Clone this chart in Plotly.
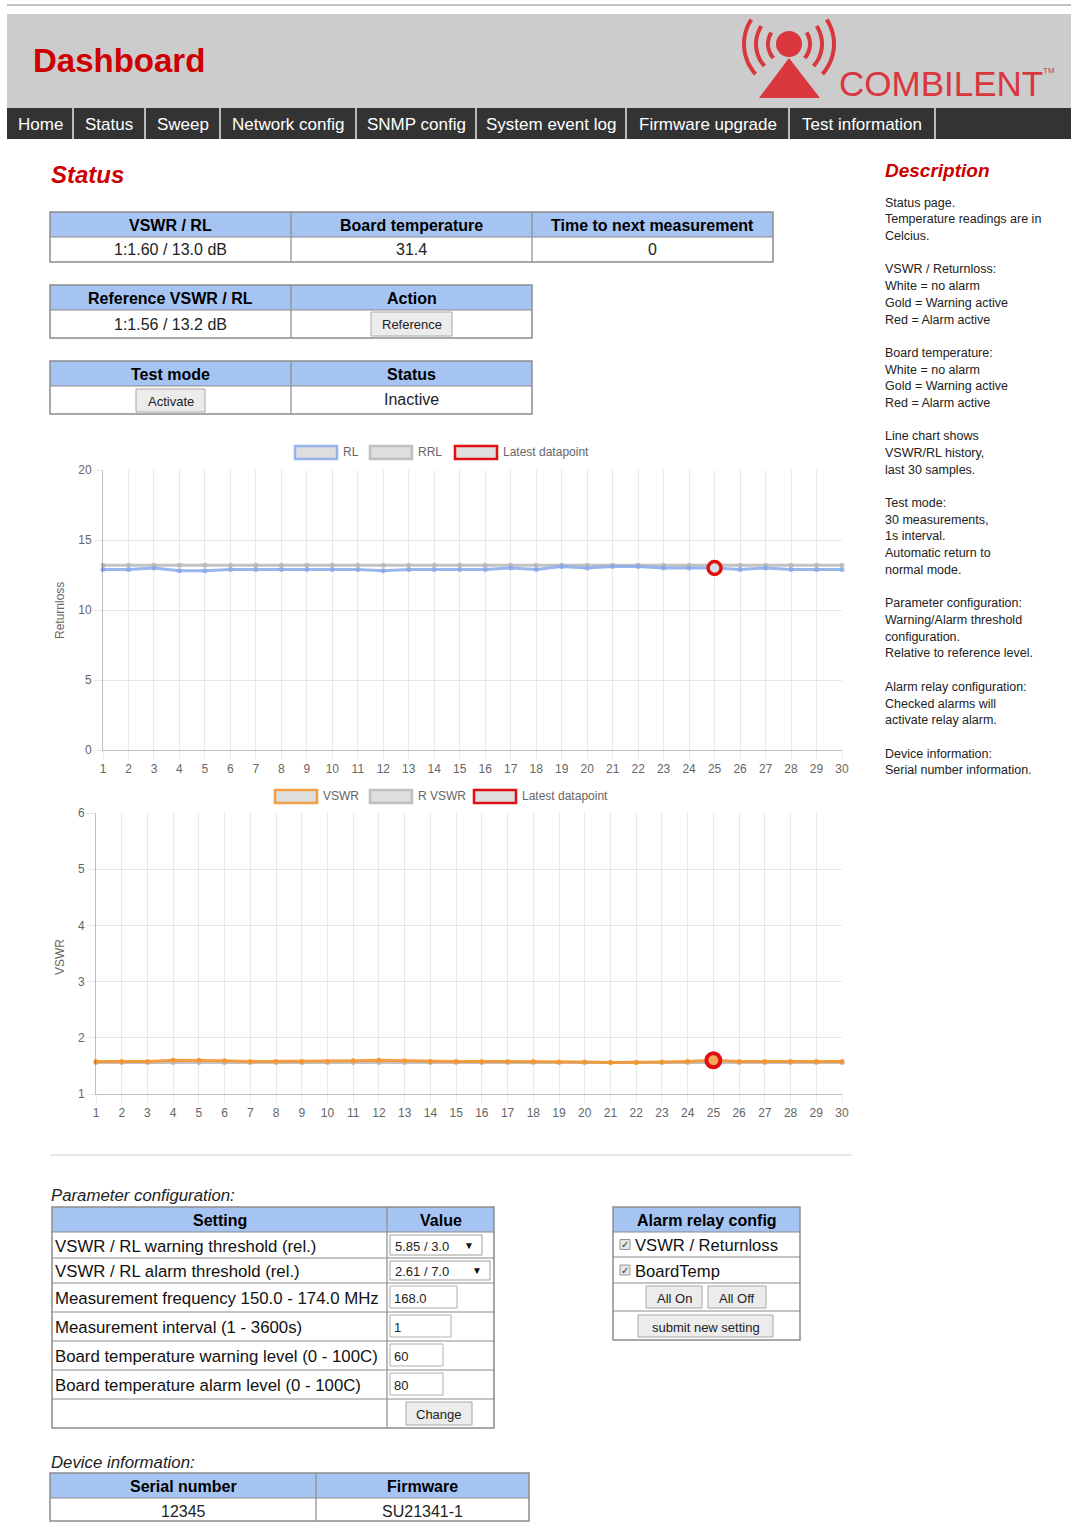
import math
import plotly.graph_objects as go

# ---------------- data ----------------
samples = list(range(1, 31))
rl_values = [12.9, 12.9, 13.0, 12.8, 12.8, 12.9, 12.9, 12.9, 12.9, 12.9,
             12.9, 12.8, 12.9, 12.9, 12.9, 12.9, 13.0, 12.9, 13.1, 13.0,
             13.1, 13.1, 13.0, 13.0, 13.0, 12.9, 13.0, 12.9, 12.9, 12.9]
rrl_values = [13.2, 13.2, 13.2, 13.2, 13.2, 13.2, 13.2, 13.2, 13.2, 13.2,
              13.2, 13.2, 13.2, 13.2, 13.2, 13.2, 13.2, 13.2, 13.2, 13.2,
              13.2, 13.2, 13.2, 13.2, 13.2, 13.2, 13.2, 13.2, 13.2, 13.2]
vswr_values = [1.58, 1.58, 1.58, 1.60, 1.60, 1.59, 1.58, 1.58, 1.58, 1.58,
               1.59, 1.60, 1.59, 1.58, 1.58, 1.58, 1.58, 1.58, 1.57, 1.57,
               1.56, 1.56, 1.57, 1.58, 1.60, 1.58, 1.58, 1.58, 1.58, 1.58]
rvswr_values = [1.56, 1.56, 1.56, 1.56, 1.56, 1.56, 1.56, 1.56, 1.56, 1.56,
                1.56, 1.56, 1.56, 1.56, 1.56, 1.56, 1.56, 1.56, 1.56, 1.56,
                1.56, 1.56, 1.56, 1.56, 1.56, 1.56, 1.56, 1.56, 1.56, 1.56]
latest_index = 25
rl_yticks = [0, 5, 10, 15, 20]
vswr_yticks = [1, 2, 3, 4, 5, 6]

nav_items = ["Home", "Status", "Sweep", "Network config", "SNMP config",
             "System event log", "Firmware upgrade", "Test information"]
status_headers = ["VSWR / RL", "Board temperature", "Time to next measurement"]
status_values = ["1:1.60 / 13.0 dB", "31.4", "0"]
ref_headers = ["Reference VSWR / RL", "Action"]
ref_value = "1:1.56 / 13.2 dB"
test_headers = ["Test mode", "Status"]
test_status = "Inactive"
param_settings = ["VSWR / RL warning threshold (rel.)",
                  "VSWR / RL alarm threshold (rel.)",
                  "Measurement frequency 150.0 - 174.0 MHz",
                  "Measurement interval (1 - 3600s)",
                  "Board temperature warning level (0 - 100C)",
                  "Board temperature alarm level (0 - 100C)"]
param_values = ["5.85 / 3.0", "2.61 / 7.0", "168.0", "1", "60", "80"]
alarm_items = ["VSWR / Returnloss", "BoardTemp"]
device_headers = ["Serial number", "Firmware"]
device_values = ["12345", "SU21341-1"]
description_lines = [
    (203, "Status page."), (219, "Temperature readings are in"), (236, "Celcius."),
    (269, "VSWR / Returnloss:"), (286, "White = no alarm"), (303, "Gold = Warning active"),
    (320, "Red = Alarm active"),
    (353, "Board temperature:"), (370, "White = no alarm"), (386, "Gold = Warning active"),
    (403, "Red = Alarm active"),
    (436, "Line chart shows"), (453, "VSWR/RL history,"), (470, "last 30 samples."),
    (503, "Test mode:"), (520, "30 measurements,"), (536, "1s interval."),
    (553, "Automatic return to"), (570, "normal mode."),
    (603, "Parameter configuration:"), (620, "Warning/Alarm threshold"),
    (637, "configuration."), (653, "Relative to reference level."),
    (687, "Alarm relay configuration:"), (704, "Checked alarms will"),
    (720, "activate relay alarm."),
    (754, "Device information:"), (770, "Serial number information."),
]

# ---------------- helpers ----------------
W, H = 1071, 1522
FONT = "Liberation Sans, Arial, sans-serif"
RED = "#cc0000"
HDR = "#a6c4f2"
BORDER = "#8c8c8c"


def X(p):
    return p / W


def Y(p):
    return 1 - p / H


shapes = []
anns = []


def rect(x0, y0, x1, y1, fill=None, line=None, lw=1):
    shapes.append(dict(type="rect", xref="paper", yref="paper",
                       x0=X(x0), x1=X(x1), y0=Y(y1), y1=Y(y0),
                       fillcolor=fill if fill else "rgba(0,0,0,0)",
                       line=dict(color=line if line else "rgba(0,0,0,0)",
                                 width=lw if line else 0)))


def seg(x0, y0, x1, y1, color, lw=1):
    shapes.append(dict(type="line", xref="paper", yref="paper",
                       x0=X(x0), x1=X(x1), y0=Y(y0), y1=Y(y1),
                       line=dict(color=color, width=lw)))


def text(x, y, s, size=16, color="#000", bold=False, italic=False,
         anchor="left", family=FONT, angle=0):
    if bold:
        s = "<b>" + s + "</b>"
    if italic:
        s = "<i>" + s + "</i>"
    anns.append(dict(xref="paper", yref="paper", x=X(x), y=Y(y), text=s,
                     showarrow=False, xanchor=anchor, yanchor="middle",
                     textangle=angle, borderpad=0,
                     font=dict(size=size, color=color, family=family)))


def button(x0, y0, x1, y1, label, size=13):
    rect(x0, y0, x1, y1, fill="#ececec", line="#a8a8a8", lw=1)
    text((x0 + x1) / 2, (y0 + y1) / 2 + 1, label, size=size, color="#222",
         anchor="center")


def table(cols, rows, headers):
    rect(cols[0], rows[0], cols[-1], rows[1], fill=HDR)
    for r in rows[1:-1]:
        seg(cols[0], r, cols[-1], r, BORDER, 1.2)
    for c in cols[1:-1]:
        seg(c, rows[0], c, rows[-1], BORDER, 1.2)
    rect(cols[0], rows[0], cols[-1], rows[-1], line=BORDER, lw=1.5)
    for i, h in enumerate(headers):
        text((cols[i] + cols[i + 1]) / 2, (rows[0] + rows[1]) / 2 + 1, h,
             size=16, bold=True, anchor="center")


# ---------------- header ----------------
seg(7, 5, 1071, 5, "#b0b0b0", 1.5)
rect(7, 14, 1071, 108, fill="#cccccc")
text(32, 61, "Dashboard", size=33, color=RED, bold=True)

LOGO = "#d9363e"
cx, cy = 789, 44


def arc_path(r, a0, a1, n=16):
    pts = []
    for k in range(n + 1):
        a = math.radians(a0 + (a1 - a0) * k / n)
        px = cx + r * math.cos(a)
        py = cy - r * math.sin(a)
        pts.append("%s%.5f,%.5f" % ("M" if k == 0 else "L", X(px), Y(py)))
    return " ".join(pts)


for r in (21, 33, 45):
    shapes.append(dict(type="path", xref="paper", yref="paper",
                       path=arc_path(r, 147, 222), line=dict(color=LOGO, width=4)))
    shapes.append(dict(type="path", xref="paper", yref="paper",
                       path=arc_path(r, -42, 33), line=dict(color=LOGO, width=4)))
shapes.append(dict(type="circle", xref="paper", yref="paper",
                   x0=X(cx - 13), x1=X(cx + 13), y0=Y(cy + 13), y1=Y(cy - 13),
                   fillcolor=LOGO, line=dict(width=0)))
tri = "M%.5f,%.5f L%.5f,%.5f L%.5f,%.5f Z" % (X(789), Y(58), X(759), Y(98), X(820), Y(98))
shapes.append(dict(type="path", xref="paper", yref="paper", path=tri,
                   fillcolor=LOGO, line=dict(width=0)))
text(838, 83, "COMBILENT", size=35, color=LOGO)
text(1042, 71, "TM", size=8, color=LOGO)

# nav bar
rect(7, 108, 1071, 139, fill="#333333")
seps = [73, 145, 220, 356, 476, 626, 789, 935]
starts = [7] + seps[:-1]
for i, item in enumerate(nav_items):
    text((starts[i] + seps[i]) / 2, 124, item, size=17, color="#ffffff",
         anchor="center")
for s in seps:
    seg(s, 108, s, 139, "#e8e8e8", 1.5)

# ---------------- status section ----------------
text(50, 175, "Status", size=24, color=RED, bold=True, italic=True)

c1 = [50, 291, 532, 773]
r1 = [212, 237, 262]
table(c1, r1, status_headers)
for i, v in enumerate(status_values):
    text((c1[i] + c1[i + 1]) / 2, 250, v, size=16, color="#222", anchor="center")

c2 = [50, 291, 532]
r2 = [285, 310, 338]
table(c2, r2, ref_headers)
text(170, 324, ref_value, size=16, color="#222", anchor="center")
button(371, 312, 452, 336, "Reference")

r3 = [361, 386, 414]
table(c2, r3, test_headers)
button(136, 389, 205, 412, "Activate")
text(411, 400, test_status, size=16, color="#222", anchor="center")

# ---------------- description ----------------
text(884, 171, "Description", size=19, color=RED, bold=True, italic=True)
for yy, s in description_lines:
    text(884, yy, s, size=12.5, color="#222")

# ---------------- chart legends ----------------
LEG_FILL = "rgba(218,218,218,0.9)"
RL_COLOR = "rgba(135,170,235,0.85)"
RRL_COLOR = "rgba(185,185,185,0.85)"
VSWR_COLOR = "rgba(243,150,50,0.9)"
LATEST = "#e01010"


def legend(items, y):
    for x0, col, label in items:
        rect(x0, y - 6, x0 + 42, y + 7, fill=LEG_FILL, line=col, lw=2.5)
        text(x0 + 47, y, label, size=12, color="#666")


legend([(295, RL_COLOR, "RL"), (370, RRL_COLOR, "RRL"), (455, LATEST, "Latest datapoint")], 452)
legend([(275, VSWR_COLOR, "VSWR"), (370, RRL_COLOR, "R VSWR"), (474, LATEST, "Latest datapoint")], 796)

text(60, 611, "Returnloss", size=12, color="#666", anchor="center", angle=-90)
text(60, 957, "VSWR", size=12, color="#666", anchor="center", angle=-90)

# separator line
seg(50, 1155, 852, 1155, "#e0e0e0", 1.5)

# ---------------- parameter configuration ----------------
text(50, 1195, "Parameter configuration:", size=16.8, color="#222", italic=True)
pc = [52, 387, 494]
pr = [1207, 1232, 1258, 1283, 1312, 1341, 1370, 1399, 1428]
table(pc, pr, ["Setting", "Value"])
for i, s in enumerate(param_settings):
    text(54, (pr[i + 1] + pr[i + 2]) / 2 + 1, s, size=16.8, color="#111")
sel_ends = [482, 490]
for i in range(2):
    y0 = pr[i + 1] + 3
    y1 = pr[i + 2] - 3
    rect(390, y0, sel_ends[i], y1, fill="#ffffff", line="#a0a0a0")
    text(394, (y0 + y1) / 2 + 1, param_values[i], size=13, color="#222")
    text(sel_ends[i] - 7, (y0 + y1) / 2, "▼", size=10, color="#111", anchor="right")
inp_ends = [457, 451, 443, 443]
for j in range(4):
    i = j + 2
    y0 = pr[i + 1] + 3
    y1 = pr[i + 2] - 4
    rect(390, y0, inp_ends[j], y1, fill="#ffffff", line="#b0b0b0")
    text(393, (y0 + y1) / 2 + 1, param_values[i], size=13, color="#222")
button(406, 1402, 472, 1425, "Change")

# alarm relay config
ac = [613, 800]
ar = [1207, 1232, 1257, 1283, 1311, 1340]
table(ac, ar, ["Alarm relay config"])
for i, s in enumerate(alarm_items):
    yc = (ar[i + 1] + ar[i + 2]) / 2
    rect(620, yc - 5, 630, yc + 5, fill="#e4e4e4", line="#999999")
    text(625, yc, "✓", size=10, color="#333", anchor="center",
         family="DejaVu Sans")
    text(634, yc + 1, s, size=16.6, color="#111")
button(646, 1286, 702, 1308, "All On")
button(708, 1286, 766, 1308, "All Off")
button(638, 1315, 773, 1337, "submit new setting")

# device information
text(50, 1462, "Device information:", size=16.8, color="#222", italic=True)
dc = [50, 316, 529]
dr = [1473, 1498, 1521]
table(dc, dr, device_headers)
for i, v in enumerate(device_values):
    text((dc[i] + dc[i + 1]) / 2, 1511, v, size=16, color="#222", anchor="center")

# ---------------- charts ----------------
fig = go.Figure()

fig.add_trace(go.Scatter(x=samples, y=rrl_values, mode="lines+markers", name="RRL",
                         line=dict(color=RRL_COLOR, width=3),
                         marker=dict(size=5, color=RRL_COLOR),
                         cliponaxis=False, xaxis="x", yaxis="y"))
fig.add_trace(go.Scatter(x=samples, y=rl_values, mode="lines+markers", name="RL",
                         line=dict(color=RL_COLOR, width=3),
                         marker=dict(size=5, color=RL_COLOR),
                         cliponaxis=False, xaxis="x", yaxis="y"))
fig.add_trace(go.Scatter(x=[samples[latest_index - 1]], y=[rl_values[latest_index - 1]],
                         mode="markers", name="Latest datapoint",
                         marker=dict(size=13, color="rgba(225,225,235,0.9)",
                                     line=dict(color=LATEST, width=3.5)),
                         cliponaxis=False, xaxis="x", yaxis="y"))

fig.add_trace(go.Scatter(x=samples, y=rvswr_values, mode="lines+markers", name="R VSWR",
                         line=dict(color=RRL_COLOR, width=3),
                         marker=dict(size=5, color=RRL_COLOR),
                         cliponaxis=False, xaxis="x2", yaxis="y2"))
fig.add_trace(go.Scatter(x=samples, y=vswr_values, mode="lines+markers", name="VSWR",
                         line=dict(color=VSWR_COLOR, width=3),
                         marker=dict(size=5, color=VSWR_COLOR),
                         cliponaxis=False, xaxis="x2", yaxis="y2"))
fig.add_trace(go.Scatter(x=[samples[latest_index - 1]], y=[vswr_values[latest_index - 1]],
                         mode="markers", name="Latest datapoint",
                         marker=dict(size=14, color="rgba(245,170,90,1)",
                                     line=dict(color=LATEST, width=4)),
                         cliponaxis=False, xaxis="x2", yaxis="y2"))

GRID = "rgba(0,0,0,0.09)"
AXLINE = "rgba(0,0,0,0.25)"
tickfont = dict(size=12, color="#666", family=FONT)

common_x = dict(tickmode="array", tickvals=samples, showgrid=True, gridcolor=GRID,
                zeroline=False, showline=True, linecolor=AXLINE, ticks="outside",
                ticklen=8, tickcolor=GRID, tickfont=tickfont, fixedrange=True,
                automargin=False)
common_y = dict(showgrid=True, gridcolor=GRID, zeroline=False, showline=True,
                linecolor=AXLINE, ticks="outside", ticklen=8, tickcolor=GRID,
                tickfont=tickfont, fixedrange=True, automargin=False)

fig.update_layout(
    width=W, height=H, autosize=False,
    margin=dict(l=0, r=0, t=0, b=0, pad=0, autoexpand=False),
    paper_bgcolor="white", plot_bgcolor="rgba(0,0,0,0)",
    showlegend=False,
    xaxis=dict(domain=[X(103), X(842)], range=[1, 30], anchor="y", **common_x),
    yaxis=dict(domain=[Y(750), Y(470)], range=[0, 20], tickvals=rl_yticks,
               anchor="x", **common_y),
    xaxis2=dict(domain=[X(96), X(842)], range=[1, 30], anchor="y2", **common_x),
    yaxis2=dict(domain=[Y(1094), Y(813)], range=[1, 6], tickvals=vswr_yticks,
                anchor="x2", **common_y),
    shapes=shapes,
    annotations=anns,
    font=dict(family=FONT),
)

fig.write_html("out.html", config={"displayModeBar": False},
               post_script="document.body.style.margin='0';document.body.style.overflow='hidden';")
